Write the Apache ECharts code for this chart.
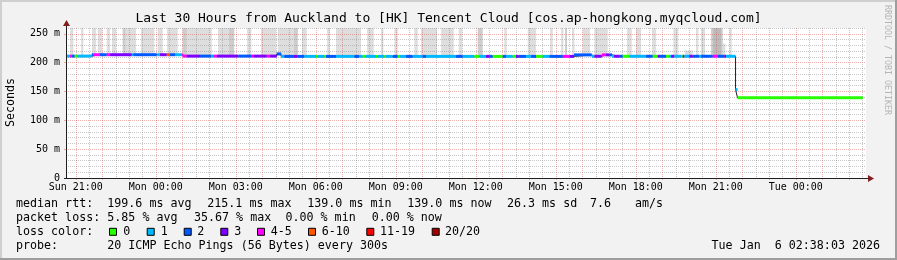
<!DOCTYPE html>
<html><head><meta charset="utf-8">
<script src="https://cdn.jsdelivr.net/npm/echarts@6/dist/echarts.min.js"></script>
<style>html,body{margin:0;padding:0;background:#f2f2f2;}#c{width:897px;height:260px;}</style>
</head><body><div id="c"></div>
<script>
// ---------------- data ----------------
const TITLE = 'Last 30 Hours from Auckland to [HK] Tencent Cloud [cos.ap-hongkong.myqcloud.com]';
const T_START = 20.634;   // Sun 20:38:03, hours since Sun 00:00
const T_END = 50.634;     // Tue 02:38:03
const Y_MAX = 260;        // ms

const xLabelHours = [21, 24, 27, 30, 33, 36, 39, 42, 45, 48];
const xLabelTexts = ['Sun 21:00', 'Mon 00:00', 'Mon 03:00', 'Mon 06:00', 'Mon 09:00',
                     'Mon 12:00', 'Mon 15:00', 'Mon 18:00', 'Mon 21:00', 'Tue 00:00'];
const yLabelValues = [0, 50, 100, 150, 200, 250];
const yLabelTexts = ['0', '50 m', '100 m', '150 m', '200 m', '250 m'];

// median rtt per run of steps: [start hour, median ms, loss colour index (-1 = none)]
const medianSegments = [
 [20.636,211.3,1],[20.786,211.3,4],[20.861,211.3,2],[20.962,211.3,0],[21.060,211.3,1],
 [21.600,213.7,2],[21.660,213.7,4],[21.911,213.7,2],[22.162,213.7,4],[22.286,213.7,3],
 [23.100,213.7,1],[23.160,213.7,2],[24.037,213.7,-1],[24.060,213.7,1],[24.161,213.7,3],
 [24.412,213.7,5],[24.536,213.7,2],[24.724,213.7,1],[24.975,213.7,4],[25.012,211.3,4],
 [25.162,211.3,3],[25.661,211.3,2],[26.074,211.3,1],[26.160,211.3,4],[26.287,211.3,3],
 [27.097,211.3,2],[27.600,211.3,4],[27.660,211.3,3],[28.162,211.3,4],[28.286,211.3,3],
 [28.537,215.1,2],[28.699,210.8,1],[28.822,210.8,2],[29.186,210.8,3],[29.325,210.8,2],
 [29.572,210.8,1],[30.011,210.8,0],[30.075,210.8,1],[30.322,210.8,0],[30.386,210.8,2],
 [30.761,210.8,1],[31.447,210.8,2],[31.635,210.8,1],[31.762,210.8,0],[31.860,210.8,1],
 [32.261,210.8,0],[32.325,210.8,1],[32.572,210.8,0],[32.636,210.8,1],[32.887,210.8,2],
 [33.075,210.8,0],[33.161,210.8,1],[33.386,210.8,2],[33.637,210.8,1],[34.012,210.8,2],
 [34.136,210.8,1],[35.261,210.8,2],[35.512,210.8,1],[35.947,210.8,0],[36.135,210.8,1],
 [36.386,210.8,3],[36.510,210.8,2],[36.637,210.8,0],[37.012,210.8,2],[37.136,210.8,1],
 [37.387,210.8,0],[37.511,210.8,3],[37.612,210.8,2],[37.886,210.8,1],[38.074,210.8,2],
 [38.261,210.8,0],[38.512,210.8,1],[38.760,210.8,2],[39.262,210.8,4],[39.510,210.8,3],
 [39.686,213.4,2],[40.350,211.0,1],[40.447,211.0,3],[40.725,213.4,4],[40.886,213.4,3],
 [40.999,213.4,2],[41.111,211.0,1],[41.186,211.0,3],[41.374,211.0,2],[41.512,211.0,0],
 [41.760,211.0,1],[42.386,211.0,2],[42.637,211.0,0],[42.825,211.0,3],[42.911,211.0,2],
 [43.136,211.0,0],[43.260,211.0,1],[43.324,211.0,3],[43.447,211.0,1],[43.699,211.0,0],
 [43.762,211.0,3],[43.822,211.0,1],[44.010,211.0,3],[44.137,211.0,2],[44.385,211.0,1],
 [44.449,211.0,2],[44.887,211.0,4],[45.075,211.0,2],[45.322,211.0,3],[45.386,211.0,1],
 [45.742,153.2,1],[45.817,139.0,0]
];
const medianEnd = 50.512;

// smoke (ping spread): [start hour, end hour, low ms, high ms, shade level]
const smokeSegments = [
 [20.786,20.910,212,300,1],[21.199,21.285,212,300,1],[21.611,21.761,212,300,1],
 [21.825,21.986,212,300,1],[22.162,22.286,212,300,1],[22.361,22.511,212,300,1],
 [22.762,23.261,212,300,1],[22.762,22.860,212,300,2],[23.449,23.947,212,300,1],
 [24.075,24.262,212,300,1],[24.424,24.825,212,300,1],[25.012,26.100,212,300,1],
 [25.012,25.162,212,300,2],[26.336,26.947,212,300,1],[26.749,26.936,212,300,2],
 [27.424,27.585,212,300,1],[27.949,28.511,212,300,1],[28.575,29.325,212,300,1],
 [29.186,29.325,212,300,2],[29.486,29.662,212,300,1],[30.424,30.536,212,300,1],
 [30.761,31.699,212,300,1],[31.924,32.175,212,300,1],[32.449,32.535,212,300,1],
 [32.947,33.075,212,300,1],[33.697,33.825,212,300,1],[33.949,34.549,212,300,1],
 [34.699,35.175,212,300,1],[35.362,35.486,212,300,1],[36.075,36.262,212,300,2],
 [37.072,37.162,212,300,1],[37.950,38.261,212,300,1],[38.786,38.887,212,300,1],
 [39.199,39.285,212,300,1],[39.349,39.424,212,300,2],[39.611,39.697,212,300,1],
 [40.012,40.286,212,300,1],[40.447,40.950,212,300,1],[41.673,41.850,212,300,1],
 [42.011,42.199,212,300,1],[42.611,42.761,212,300,1],[43.410,43.597,212,300,1],
 [43.849,44.137,212,221,1],[44.261,44.347,212,300,1],[44.449,44.599,212,300,1],
 [44.824,45.262,212,300,2],[44.900,45.200,212,300,3],[45.262,45.360,212,233,1],
 [45.510,45.600,212,300,1]
];

const lossLabels = ['0','1','2','3','4-5','6-10','11-19','20/20'];
const rttLegend = ['median rtt:', '199.6 ms avg', '215.1 ms max', '139.0 ms min', '139.0 ms now', '26.3 ms sd', '7.6', 'am/s'];
const lossLegend = ['packet loss:', '5.85 % avg', '35.67 % max', '0.00 % min', '0.00 % now'];
const colorLegendTitle = 'loss color:';
const probeLegend = ['probe:', '20 ICMP Echo Pings (56 Bytes) every 300s'];
const dateText = 'Tue Jan  6 02:38:03 2026';

// ---------------- style / layout ----------------
const LOSS_COLORS = ['#26ff00','#00b8ff','#0059ff','#7e00ff','#ff00ff','#ff5500','#ff0000','#a10000'];
const SMOKE_SHADES = [null, '#dedede', '#cdcdcd', '#bcbcbc'];
const MONO = '"DejaVu Sans Mono", monospace';
const GRID_MINOR = 'rgba(143,143,143,0.5)';
const GRID_MAJOR = 'rgba(222,79,79,0.45)';
const AXIS_COLOR = '#1f1f1f';
const ARROW_COLOR = '#801f1f';
const PL = 66, PT = 28, PW = 800, PH = 150;
const PXH = PW / (T_END - T_START);
const PXM = PH / Y_MAX;
const LEG_FS = 11.66;
const dash = [1, 1];

const bandData = medianSegments.map((s, i) => [s[0], i + 1 < medianSegments.length ? medianSegments[i + 1][0] : medianEnd, s[1], s[2]]);
const lineData = medianSegments.map(s => [s[0], s[1]]).concat([[medianEnd, medianSegments[medianSegments.length - 1][1]]]);

function txt(text, x, y, opts) {
  return Object.assign({ type: 'text', x: x, y: y, z: 10, silent: true,
    style: Object.assign({ text: text, fill: '#000', fontFamily: MONO, fontSize: LEG_FS, align: 'left', verticalAlign: 'middle' }, (opts && opts.style) || {}) },
    opts && opts.rotation !== undefined ? { rotation: opts.rotation } : {});
}

const graphics = [];
graphics.push({ type: 'rect', z: 10, silent: true, shape: { x: 0, y: 0, width: 897, height: 2 }, style: { fill: '#cfcfcf' } });
graphics.push({ type: 'rect', z: 10, silent: true, shape: { x: 0, y: 0, width: 2, height: 260 }, style: { fill: '#cfcfcf' } });
graphics.push({ type: 'rect', z: 10, silent: true, shape: { x: 0, y: 258, width: 897, height: 2 }, style: { fill: '#9e9e9e' } });
graphics.push({ type: 'rect', z: 10, silent: true, shape: { x: 895, y: 0, width: 2, height: 260 }, style: { fill: '#9e9e9e' } });
graphics.push({ type: 'rect', z: -5, silent: true, shape: { x: PL, y: PT, width: PW, height: PH }, style: { fill: '#ffffff' } });
graphics.push({ type: 'line', z: 10, silent: true, shape: { x1: PL + 0.5, y1: PT + PH, x2: PL + 0.5, y2: PT - 3 }, style: { stroke: AXIS_COLOR, lineWidth: 1 } });
graphics.push({ type: 'line', z: 10, silent: true, shape: { x1: PL - 2, y1: PT + PH + 0.5, x2: PL + PW + 3, y2: PT + PH + 0.5 }, style: { stroke: AXIS_COLOR, lineWidth: 1 } });
graphics.push({ type: 'polygon', z: 11, silent: true, shape: { points: [[PL + 0.5 - 3.5, PT - 2], [PL + 0.5 + 3.5, PT - 2], [PL + 0.5, PT - 8]] }, style: { fill: ARROW_COLOR } });
graphics.push({ type: 'polygon', z: 11, silent: true, shape: { points: [[PL + PW + 2, PT + PH + 0.5 - 3.5], [PL + PW + 2, PT + PH + 0.5 + 3.5], [PL + PW + 8, PT + PH + 0.5]] }, style: { fill: ARROW_COLOR } });
graphics.push(txt(TITLE, 448.5, 19, { style: { fontSize: 13, align: 'center' } }));
graphics.push(txt('Seconds', 11, 102.5, { rotation: Math.PI / 2, style: { align: 'center' } }));
graphics.push(txt('RRDTOOL / TOBI OETIKER', 887, 60, { rotation: -Math.PI / 2, style: { fontSize: 8.3, align: 'center', fill: '#b5b5b5' } }));
const ROW_Y = [203.5, 218, 231.8, 245.5];
const rttX = [16, 107.3, 207.3, 307.3, 407.3, 507, 590, 635];
rttLegend.forEach((t, i) => graphics.push(txt(t, rttX[i], ROW_Y[0])));
const lossX = [16, 107.3, 194, 285.5, 371.7];
lossLegend.forEach((t, i) => graphics.push(txt(t, lossX[i], ROW_Y[1])));
graphics.push(txt(colorLegendTitle, 16, ROW_Y[2]));
const boxX = [109, 146.7, 183.7, 220.3, 257, 308, 366.3, 431.7];
const boxLabelX = [123.3, 160.7, 197.3, 234.3, 270.7, 321.7, 380, 445];
lossLabels.forEach((t, i) => {
  graphics.push({ type: 'rect', z: 10, silent: true, shape: { x: boxX[i] + 0.5, y: ROW_Y[2] - 3.5, width: 7, height: 7 }, style: { fill: LOSS_COLORS[i], stroke: '#000', lineWidth: 1 } });
  graphics.push(txt(t, boxLabelX[i], ROW_Y[2]));
});
graphics.push(txt(probeLegend[0], 16, ROW_Y[3]));
graphics.push(txt(probeLegend[1], 107.3, ROW_Y[3]));
graphics.push(txt(dateText, 880, ROW_Y[3], { style: { align: 'right' } }));

const labelFont = { fontFamily: MONO, fontSize: 10, color: '#000' };
const hidden = { show: false };

// grids: 0 data; 1 x major (21..50 h); 2 x minor (21.5..50.5 h, shifted axis);
// 3 y major (0..250 ms); 4..7 y minor (offset 10/20/30/40 ms, shifted axes)
const grids = [
  { left: PL, top: PT, width: PW, height: PH },
  { left: PL + (21 - T_START) * PXH, top: PT, width: 29 * PXH, height: PH },
  { left: PL + (21.5 - T_START) * PXH, top: PT, width: 29 * PXH, height: PH },
  { left: PL, top: PT + (Y_MAX - 250) * PXM, width: PW, height: 250 * PXM }
];
const yMinorOffsets = [10, 20, 30, 40];
const yMinorSpans = [250, 200, 200, 200];
yMinorOffsets.forEach((o, k) => grids.push({ left: PL, top: PT + (Y_MAX - o - yMinorSpans[k]) * PXM, width: PW, height: yMinorSpans[k] * PXM }));

const xAxes = [
  { gridIndex: 0, type: 'value', min: T_START, max: T_END, show: false },
  { gridIndex: 1, type: 'value', min: 21, max: 50, interval: 1, z: 1,
    axisLine: hidden,
    axisTick: { show: true, length: 2, lineStyle: { color: GRID_MAJOR } },
    axisLabel: Object.assign({ margin: 4, showMinLabel: true, showMaxLabel: true,
      formatter: (v) => { const k = xLabelHours.indexOf(Math.round(v)); return k >= 0 ? xLabelTexts[k] : ''; } }, labelFont),
    splitLine: { show: true, lineStyle: { color: GRID_MAJOR, width: 1, type: dash } } },
  { gridIndex: 2, type: 'value', min: 0, max: 29, interval: 1, z: 0,
    axisLine: hidden, axisTick: hidden, axisLabel: hidden,
    splitLine: { show: true, lineStyle: { color: GRID_MINOR, width: 1, type: dash } } },
  { gridIndex: 3, type: 'value', min: 0, max: 1, show: false }
];
const yAxes = [
  { gridIndex: 0, type: 'value', min: 0, max: Y_MAX, show: false },
  { gridIndex: 1, type: 'value', min: 0, max: 1, show: false },
  { gridIndex: 2, type: 'value', min: 0, max: 1, show: false },
  { gridIndex: 3, type: 'value', min: 0, max: 250, interval: 50, z: 1,
    axisLine: hidden,
    axisTick: { show: true, length: 2, lineStyle: { color: GRID_MAJOR } },
    axisLabel: Object.assign({ margin: 6, showMinLabel: true, showMaxLabel: true,
      formatter: (v) => { const k = yLabelValues.indexOf(Math.round(v)); return k >= 0 ? yLabelTexts[k] : ''; } }, labelFont),
    splitLine: { show: true, lineStyle: { color: GRID_MAJOR, width: 1, type: dash } } }
];
yMinorOffsets.forEach((o, k) => {
  xAxes.push({ gridIndex: 4 + k, type: 'value', min: 0, max: 1, show: false });
  yAxes.push({ gridIndex: 4 + k, type: 'value', min: 0, max: yMinorSpans[k], interval: 50, z: 0,
    axisLine: hidden, axisTick: hidden, axisLabel: hidden,
    splitLine: { show: true, lineStyle: { color: GRID_MINOR, width: 1, type: dash } } });
});

const option = {
  animation: false,
  backgroundColor: '#f2f2f2',
  grid: grids.map(g => Object.assign({ show: false }, g)),
  xAxis: xAxes,
  yAxis: yAxes,
  series: [
    { type: 'custom', name: 'smoke', xAxisIndex: 0, yAxisIndex: 0, z: -1, silent: true,
      data: smokeSegments, encode: { x: [0, 1], y: [2, 3] },
      renderItem: (params, api) => {
        const a = api.coord([api.value(0), Math.min(api.value(3), Y_MAX)]);
        const b = api.coord([api.value(1), api.value(2)]);
        return { type: 'rect', shape: { x: a[0], y: a[1], width: b[0] - a[0], height: b[1] - a[1] },
                 style: { fill: SMOKE_SHADES[api.value(4)] } };
      } },
    { type: 'line', name: 'median', xAxisIndex: 0, yAxisIndex: 0, z: 3, silent: true,
      data: lineData, step: 'end', symbol: 'none', lineStyle: { color: '#202020', width: 1 } },
    { type: 'custom', name: 'loss', xAxisIndex: 0, yAxisIndex: 0, z: 4, silent: true,
      data: bandData, encode: { x: [0, 1], y: 2 },
      renderItem: (params, api) => {
        const loss = api.value(3);
        if (loss < 0) return null;
        const a = api.coord([api.value(0), api.value(2)]);
        const b = api.coord([api.value(1), api.value(2)]);
        return { type: 'rect', shape: { x: a[0], y: a[1] - 1.5, width: b[0] - a[0], height: 3 },
                 style: { fill: LOSS_COLORS[loss] } };
      } }
  ],
  graphic: graphics
};

const chart = echarts.init(document.getElementById('c'), null, { renderer: 'canvas', width: 897, height: 260 });
chart.setOption(option);
</script>
</body></html>
